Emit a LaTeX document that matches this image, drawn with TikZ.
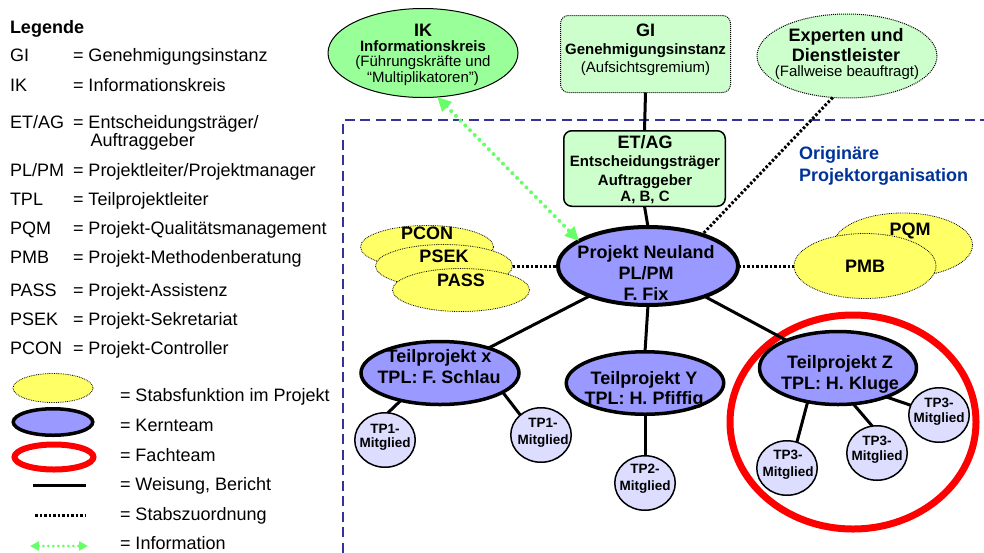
\documentclass[tikz,border=0pt]{standalone}
\usepackage{fontspec}
\setmainfont{Liberation Sans}
\usetikzlibrary{shapes.geometric,arrows.meta}
\definecolor{ikgreen}{HTML}{99FF99}
\definecolor{palegreen}{HTML}{CCFFCC}
\definecolor{stabyellow}{HTML}{FFFF66}
\definecolor{kernblue}{HTML}{9999FF}
\definecolor{memberblue}{HTML}{DDDDFF}
\definecolor{frameblue}{HTML}{333399}
\definecolor{titleblue}{HTML}{003399}
\definecolor{infogreen}{HTML}{66FF66}
\newcommand\setfs[1]{\fontsize{#1}{#1}\selectfont}

\begin{document}
\begin{tikzpicture}[x=1pt,y=-1pt,
  every node/.style={inner sep=0pt, outer sep=0pt},
  lgdtitle/.style={anchor=base west, font=\setfs{18}\bfseries},
  lgdkey/.style={anchor=base west, font=\setfs{18}},
  big/.style={anchor=base, font=\setfs{18}\bfseries},
  mid/.style={anchor=base, font=\setfs{15}\bfseries},
  midn/.style={anchor=base, font=\setfs{15}},
  small/.style={anchor=base, font=\setfs{13.5}\bfseries},
  stab/.style={ellipse, draw, densely dotted, line width=0.8pt, fill=stabyellow},
  kern/.style={ellipse, draw, line width=3.5pt, fill=kernblue},
  member/.style={ellipse, draw, line width=1.5pt, fill=memberblue,
    minimum width=60.5, minimum height=54.5},
  board/.style={rectangle, rounded corners=8pt, draw, fill=palegreen},
  fachteam/.style={ellipse, draw=red, line width=7pt},
  weisung/.style={line width=3pt},
  stabline/.style={line width=3pt, dash pattern=on 2.5pt off 2pt},
  frame/.style={draw=frameblue, line width=2.5pt, dash pattern=on 10pt off 5.5pt},
  info/.style={draw=infogreen, line width=4pt, line cap=round,
    dash pattern=on 0pt off 6.7pt,
    {Triangle[length=14pt,width=13pt]}-{Triangle[length=14pt,width=13pt]}},
  infosmall/.style={draw=infogreen, line width=3pt, line cap=round,
    dash pattern=on 0pt off 5pt,
    {Triangle[length=9pt,width=9pt]}-{Triangle[length=9pt,width=9pt]}}
]
\useasboundingbox (0,0) rectangle (984,552);

% ---------- legend ----------
\node[lgdtitle] (lg-title) at (10,33) {Legende};
\node[lgdkey] (lg-k1) at (10,61.7) {GI};
\node[lgdkey] (lg-v1) at (73,61.7) {= Genehmigungsinstanz};
\node[lgdkey] (lg-k2) at (10,91.7) {IK};
\node[lgdkey] (lg-v2) at (73,91.7) {= Informationskreis};
\node[lgdkey] (lg-k3) at (10,128.3) {ET/AG};
\node[lgdkey] (lg-v3) at (73,128.3) {= Entscheidungsträger/};
\node[lgdkey] (lg-v3b) at (90.7,146.6) {Auftraggeber};
\node[lgdkey] (lg-k4) at (10,176.7) {PL/PM};
\node[lgdkey] (lg-v4) at (73,176.7) {= Projektleiter/Projektmanager};
\node[lgdkey] (lg-k5) at (10,205.7) {TPL};
\node[lgdkey] (lg-v5) at (73,205.7) {= Teilprojektleiter};
\node[lgdkey] (lg-k6) at (10,234.3) {PQM};
\node[lgdkey] (lg-v6) at (73,234.3) {= Projekt-Qualitätsmanagement};
\node[lgdkey] (lg-k7) at (10,263.3) {PMB};
\node[lgdkey] (lg-v7) at (73,263.3) {= Projekt-Methodenberatung};
\node[lgdkey] (lg-k8) at (10,296) {PASS};
\node[lgdkey] (lg-v8) at (73,296) {= Projekt-Assistenz};
\node[lgdkey] (lg-k9) at (10,325.7) {PSEK};
\node[lgdkey] (lg-v9) at (73,325.7) {= Projekt-Sekretariat};
\node[lgdkey] (lg-k10) at (10,354.3) {PCON};
\node[lgdkey] (lg-v10) at (73,354.3) {= Projekt-Controller};

\node[stab, minimum width=80, minimum height=29] (lg-stab) at (53,388) {};
\node[lgdkey] (lg-s1) at (120,401.7) {= Stabsfunktion im Projekt};
\node[kern, minimum width=79.5, minimum height=26.5] (lg-kern) at (53,422) {};
\node[lgdkey] (lg-s2) at (120,431.7) {= Kernteam};
\node[fachteam, line width=6pt, minimum width=79, minimum height=25] (lg-fach) at (54,457) {};
\node[lgdkey] (lg-s3) at (120,461.7) {= Fachteam};
\coordinate (lg-w1) at (33,485);
\coordinate (lg-w2) at (86,485);
\draw[weisung] (lg-w1) -- (lg-w2);
\node[lgdkey] (lg-s4) at (120,490.7) {= Weisung, Bericht};
\coordinate (lg-d1) at (35,515);
\coordinate (lg-d2) at (85,515);
\draw[stabline] (lg-d1) -- (lg-d2);
\node[lgdkey] (lg-s5) at (120,520.7) {= Stabszuordnung};
\coordinate (lg-i1) at (30,546);
\coordinate (lg-i2) at (88,546);
\draw[infosmall] (lg-i1) -- (lg-i2);
\node[lgdkey] (lg-s6) at (120,549.5) {= Information};

% ---------- frame of the original project organisation ----------
\coordinate (fr-r) at (990,120);
\coordinate (fr-c) at (343,120);
\coordinate (fr-b) at (343,560);
\draw[frame] (fr-r) -- (fr-c) -- (fr-b);
\node[anchor=base west, font=\setfs{18}\bfseries, text=titleblue] (orig1) at (799,159) {Originäre};
\node[anchor=base west, font=\setfs{18}\bfseries, text=titleblue] (orig2) at (799,181.7) {Projektorganisation};

% ---------- specialist team ring ----------
\node[fachteam, minimum width=246, minimum height=214] (fach) at (853,422) {};

% ---------- upper bodies ----------
\node[ellipse, draw, line width=1pt, fill=ikgreen, minimum width=190, minimum height=89] (ik) at (423,53) {};
\node[big] (ik-1) at (423,36) {IK};
\node[mid] (ik-2) at (423,51.7) {Informationskreis};
\node[midn] (ik-3) at (423,66.7) {(Führungskräfte und};
\node[midn] (ik-4) at (423,82.7) {“Multiplikatoren”)};

\node[board, densely dotted, line width=1pt, minimum width=170, minimum height=77] (gi) at (645.5,54) {};
\node[big] (gi-1) at (645.5,36) {GI};
\node[mid] (gi-2) at (645.5,54.3) {Genehmigungsinstanz};
\node[midn] (gi-3) at (645.5,72.7) {(Aufsichtsgremium)};

\node[ellipse, draw, densely dotted, line width=1pt, fill=palegreen, minimum width=180, minimum height=84] (exp) at (847,56) {};
\node[big] (exp-1) at (846,41.7) {Experten und};
\node[big] (exp-2) at (846,61) {Dienstleister};
\node[midn] (exp-3) at (847,76) {(Fallweise beauftragt)};

\node[board, line width=1.5pt, minimum width=161.5, minimum height=75.5] (etag) at (644.5,168.5) {};
\node[big] (etag-1) at (645,148.3) {ET/AG};
\node[mid] (etag-2) at (645,166.7) {Entscheidungsträger};
\node[mid] (etag-3) at (645,185) {Auftraggeber};
\node[mid] (etag-4) at (645,201.7) {A, B, C};

% ---------- staff functions ----------
\node[stab, minimum width=133, minimum height=43] (pcon) at (427,247) {};
\node[big] (pcon-t) at (427,239.3) {PCON};
\node[stab, minimum width=137, minimum height=43] (psek) at (444,266) {};
\node[big] (psek-t) at (444,262.7) {PSEK};
\node[stab, minimum width=137, minimum height=43] (pass) at (461,290) {};
\node[big] (pass-t) at (461,286) {PASS};

\node[stab, minimum width=139, minimum height=64] (pqm) at (903,245) {};
\node[big] (pqm-t) at (910,235) {PQM};
\node[stab, minimum width=142, minimum height=65] (pmb) at (865,266) {};
\node[big] (pmb-t) at (865,272.7) {PMB};

% ---------- core team ----------
\node[kern, line width=4pt, minimum width=180, minimum height=78] (pn) at (648,266) {};
\node[big] (pn-1) at (646,258.3) {Projekt Neuland};
\node[big] (pn-2) at (646,279) {PL/PM};
\node[big] (pn-3) at (646,300) {F. Fix};

\node[kern, minimum width=158, minimum height=63] (tpx) at (440,373) {};
\node[big] (tpx-1) at (439,362.5) {Teilprojekt x};
\node[big] (tpx-2) at (439,383.5) {TPL: F. Schlau};

\node[kern, minimum width=157.5, minimum height=62.5] (tpy) at (645,383) {};
\node[big] (tpy-1) at (644,384.5) {Teilprojekt Y};
\node[big] (tpy-2) at (644,404.5) {TPL: H. Pfiffig};

\node[kern, minimum width=157, minimum height=73] (tpz) at (838,368) {};
\node[big] (tpz-1) at (840,368.3) {Teilprojekt Z};
\node[big] (tpz-2) at (840,389.3) {TPL: H. Kluge};

% ---------- team members ----------
\node[member] (m1) at (385,440) {};
\node[small] (m1-1) at (385,433.3) {TP1-};
\node[small] (m1-2) at (385,447.7) {Mitglied};
\node[member] (m2) at (541,435) {};
\node[small] (m2-1) at (543,427.3) {TP1-};
\node[small] (m2-2) at (543,444) {Mitglied};
\node[member] (m3) at (645,483) {};
\node[small] (m3-1) at (645,473.3) {TP2-};
\node[small] (m3-2) at (645,490) {Mitglied};
\node[member] (z1) at (787,468) {};
\node[small] (z1-1) at (788,459.3) {TP3-};
\node[small] (z1-2) at (788,476.7) {Mitglied};
\node[member] (z2) at (877,453) {};
\node[small] (z2-1) at (877,445) {TP3-};
\node[small] (z2-2) at (877,460) {Mitglied};
\node[member] (z3) at (939,415) {};
\node[small] (z3-1) at (939,407.3) {TP3-};
\node[small] (z3-2) at (939,422.7) {Mitglied};

% ---------- instruction / report lines ----------
\draw[weisung] (gi.south) -- (etag.north);
\draw[weisung] (etag.south) -- (pn.north);
\draw[weisung] (pn) -- (tpx);
\draw[weisung] (pn.south) -- (tpy.north);
\draw[weisung] (pn) -- (tpz);
\draw[weisung] (tpx.-145) -- (m1.84);
\draw[weisung] (tpx.-17) -- (m2.136);
\draw[weisung] (tpy.south) -- (m3.north);
\draw[weisung] (tpz.-132) -- (z1.69);
\draw[weisung] (tpz.-67) -- (z2.100);
\draw[weisung] (tpz.-31) -- (z3.161);

% ---------- staff assignment ----------
\draw[stabline] (psek.east) -- (pn.west);
\draw[stabline] (pn.east) -- (pmb.west);
\draw[stabline] (exp.-109) -- (pn.30);

% ---------- information ----------
\draw[info] (ik.-72) -- (pn.160);
\end{tikzpicture}
\end{document}
